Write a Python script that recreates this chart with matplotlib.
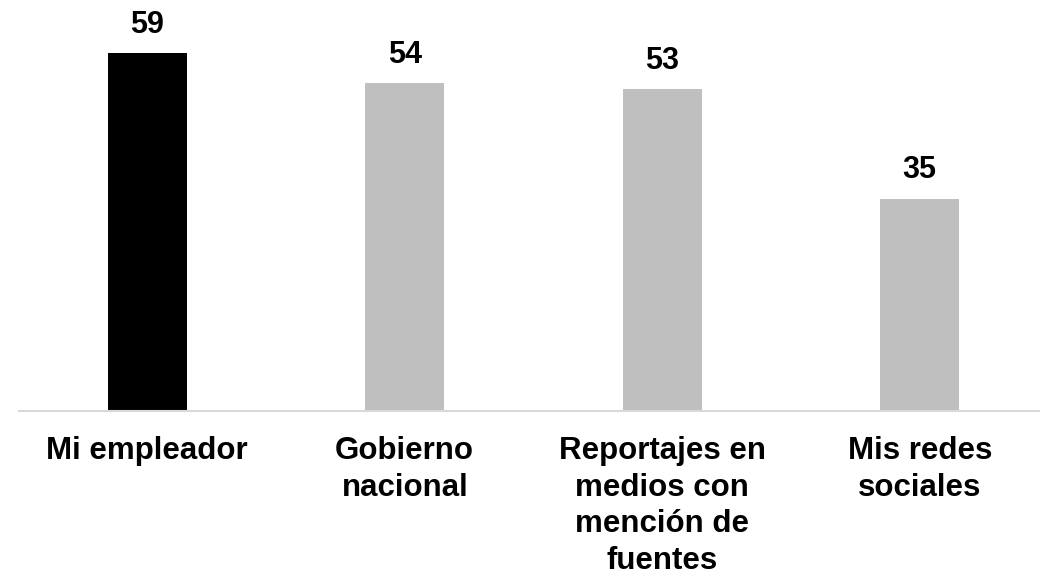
import matplotlib.pyplot as plt

categories = ['Mi empleador', 'Gobierno\nnacional', 'Reportajes en\nmedios con\nmención de\nfuentes', 'Mis redes\nsociales']
values = [59, 54, 53, 35]
colors = ['#000000', '#bfbfbf', '#bfbfbf', '#bfbfbf']

plt.rcParams['font.family'] = ['Liberation Sans', 'DejaVu Sans']

fig = plt.figure(figsize=(10.4, 5.77), dpi=100)
ax = fig.add_axes([18.5/1040, 166/577, 1030/1040, 394.5/577])

x = range(len(values))
bars = ax.bar(x, values, width=0.307, color=colors)

for b, v in zip(bars, values):
    ax.annotate(str(v), (b.get_x() + b.get_width()/2, v), xytext=(0, 9.5),
                textcoords='offset points', ha='center', va='bottom',
                fontsize=22, fontweight='bold')

ax.set_xlim(-0.5, 3.5)
ax.set_ylim(0, 65)
ax.set_xticks(list(x))
ax.set_xticklabels(categories, fontsize=22.5, fontweight='bold', linespacing=1.29)
ax.tick_params(axis='x', length=0, pad=18)
ax.set_yticks([])
for s in ['top', 'right', 'left']:
    ax.spines[s].set_visible(False)
ax.spines['bottom'].set_color('#d9d9d9')
ax.spines['bottom'].set_linewidth(1.5)

fig.savefig('out.png', dpi=100)
